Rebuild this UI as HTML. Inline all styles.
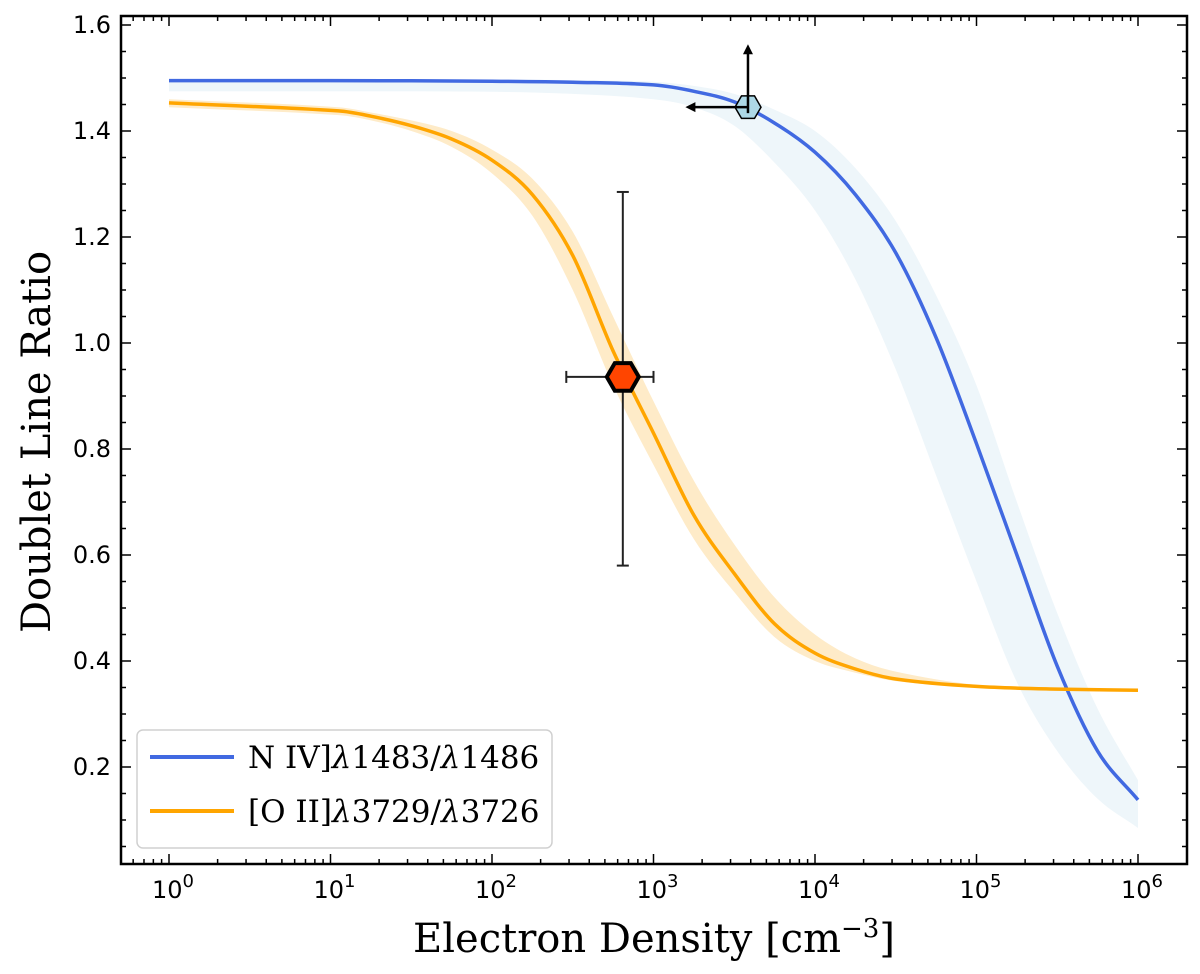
<!DOCTYPE html>
<html><head><meta charset="utf-8"><style>
body{margin:0;background:#fff;}
svg{display:block;}
.tick{font-family:"DejaVu Sans","Liberation Sans",sans-serif;font-size:24px;fill:#000;}
.lab{font-family:"DejaVu Serif","Liberation Serif",serif;font-size:40px;fill:#000;}
.leg{font-family:"DejaVu Serif","Liberation Serif",serif;font-size:31px;fill:#000;}
</style></head><body>
<svg id="chart" width="1200" height="974" viewBox="0 0 1200 974" xmlns="http://www.w3.org/2000/svg"></svg>
<script>
const nivLogN = [0,1,2,2.5,3,3.25,3.5,3.75,4,4.25,4.5,4.75,5,5.25,5.5,5.75,6];
const nivRatio = [1.495,1.495,1.494,1.492,1.487,1.475,1.455,1.415,1.36,1.28,1.17,1.01,0.81,0.60,0.39,0.23,0.138];
const nivLo = [1.475,1.475,1.474,1.47,1.46,1.445,1.41,1.34,1.25,1.12,0.95,0.75,0.55,0.36,0.23,0.14,0.085];
const nivHi = [1.497,1.497,1.497,1.496,1.493,1.485,1.47,1.44,1.40,1.33,1.23,1.09,0.92,0.70,0.49,0.31,0.175];
const oiiLogN = [0,1.05,1.25,1.5,1.75,2,2.25,2.5,2.75,3,3.25,3.5,3.75,4,4.25,4.5,5,5.5,6];
const oiiRatio = [1.453,1.438,1.428,1.41,1.385,1.345,1.28,1.165,0.985,0.83,0.675,0.565,0.47,0.415,0.385,0.366,0.352,0.347,0.345];
const oiiLo = [1.445,1.43,1.42,1.40,1.37,1.32,1.24,1.10,0.92,0.77,0.63,0.53,0.445,0.40,0.378,0.362,0.35,0.346,0.345];
const oiiHi = [1.46,1.445,1.435,1.42,1.40,1.365,1.31,1.21,1.05,0.89,0.74,0.62,0.52,0.45,0.405,0.38,0.355,0.347,0.345];
const obsLogN = 2.81, obsRatio = 0.936, obsXLo = 2.46, obsXHi = 3.0, obsYLo = 0.58, obsYHi = 1.285;
const limLogN = 3.585, limRatio = 1.445, limArrowY = 1.56, limArrowX = 3.21;
const xTickExp = [0,1,2,3,4,5,6];
const yTicks = [0.2,0.4,0.6,0.8,1.0,1.2,1.4,1.6];

const L=121,R=1187,T=16,B=864;
const sx = v => 169 + 161.5*v;
const sy = v => 25 + (1.6 - v)*530;
const svg = document.getElementById('chart');
const NS = 'http://www.w3.org/2000/svg';
function mk(tag, attrs, parent){ const e=document.createElementNS(NS,tag); for(const k in attrs) e.setAttribute(k,attrs[k]); (parent||svg).appendChild(e); return e; }
function pts(xs, ys){ return xs.map((x,i)=>[sx(x),sy(ys[i])]); }
function smoothSeg(p, start){
  let d=(start?'M':'L')+p[0][0].toFixed(1)+','+p[0][1].toFixed(1);
  for(let i=0;i<p.length-1;i++){
    const p0=p[i-1]||p[i],p1=p[i],p2=p[i+1],p3=p[i+2]||p2;
    const t1=(p2[0]-p1[0])/(p2[0]-p0[0]||1), t2=(p2[0]-p1[0])/(p3[0]-p1[0]||1);
    const c1=[p1[0]+(p2[0]-p0[0])*t1/3, p1[1]+(p2[1]-p0[1])*t1/3];
    const c2=[p2[0]-(p3[0]-p1[0])*t2/3, p2[1]-(p3[1]-p1[1])*t2/3];
    d+='C'+c1[0].toFixed(1)+','+c1[1].toFixed(1)+' '+c2[0].toFixed(1)+','+c2[1].toFixed(1)+' '+p2[0].toFixed(1)+','+p2[1].toFixed(1);
  }
  return d;
}
function band(xs, lo, hi){
  const up = pts(xs,hi), dn = pts(xs,lo).reverse();
  return smoothSeg(up,true)+smoothSeg(dn,false)+'Z';
}

let e;
e = mk('path',{d:band(nivLogN,nivLo,nivHi),fill:'#eef6fa'});


e = mk('path',{d:band(oiiLogN,oiiLo,oiiHi),fill:'#feebc8'});


e = mk('path',{d:smoothSeg(pts(nivLogN,nivRatio),true),fill:'none',stroke:'#4169e1','stroke-width':3.5});


e = mk('path',{d:smoothSeg(pts(oiiLogN,oiiRatio),true),fill:'none',stroke:'#ffa500','stroke-width':3.5});



const g1 = mk('g',{stroke:'#222','stroke-width':2});


mk('line',{x1:sx(obsXLo),x2:sx(obsXHi),y1:sy(obsRatio),y2:sy(obsRatio)},g1);
mk('line',{x1:sx(obsLogN),x2:sx(obsLogN),y1:sy(obsYLo),y2:sy(obsYHi)},g1);
mk('line',{x1:sx(obsXLo),x2:sx(obsXLo),y1:sy(obsRatio)-6,y2:sy(obsRatio)+6},g1);
mk('line',{x1:sx(obsXHi),x2:sx(obsXHi),y1:sy(obsRatio)-6,y2:sy(obsRatio)+6},g1);
mk('line',{x1:sx(obsLogN)-6,x2:sx(obsLogN)+6,y1:sy(obsYLo),y2:sy(obsYLo)},g1);
mk('line',{x1:sx(obsLogN)-6,x2:sx(obsLogN)+6,y1:sy(obsYHi),y2:sy(obsYHi)},g1);
function hex(cx,cy,r){ let p=[]; for(let i=0;i<6;i++){const a=Math.PI/3*i; p.push((cx+r*Math.cos(a)).toFixed(1)+','+(cy+r*Math.sin(a)).toFixed(1));} return p.join(' '); }
e = mk('polygon',{points:hex(sx(obsLogN),sy(obsRatio),16),fill:'#ff4500',stroke:'#000','stroke-width':4});



const g2 = mk('g',{stroke:'#000','stroke-width':2.5,fill:'none'});


const lx=sx(limLogN), ly=sy(limRatio);
mk('line',{x1:lx,x2:lx,y1:ly,y2:sy(limArrowY)+6},g2);
mk('line',{x1:lx,x2:sx(limArrowX)+6,y1:ly,y2:ly},g2);
mk('polygon',{points:`${lx},${sy(limArrowY)-2} ${lx-5},${sy(limArrowY)+8} ${lx+5},${sy(limArrowY)+8}`,fill:'#000',stroke:'none'},g2);
mk('polygon',{points:`${sx(limArrowX)-2},${ly} ${sx(limArrowX)+8},${ly-5} ${sx(limArrowX)+8},${ly+5}`,fill:'#000',stroke:'none'},g2);
e = mk('polygon',{points:hex(lx,ly,13),fill:'#add8e6',stroke:'#000','stroke-width':1.5});


mk('line',{x1:lx,x2:lx,y1:ly-12,y2:ly+6,stroke:'#000','stroke-width':2.5});
mk('line',{x1:lx-12,x2:lx,y1:ly,y2:ly,stroke:'#000','stroke-width':2.5});

e = mk('rect',{x:L,y:T,width:R-L,height:B-T,fill:'none',stroke:'#000','stroke-width':2.5});


const tg = mk('g',{stroke:'#000','stroke-width':1.5});


for(let d=-1; d<=6; d++){
  for(let m=1;m<10;m++){
    const v=d+Math.log10(m), x=sx(v);
    if(x<L+1||x>R-1) continue;
    const len = m===1?10:5;
    mk('line',{x1:x,x2:x,y1:B,y2:B-len},tg);
    mk('line',{x1:x,x2:x,y1:T,y2:T+len},tg);
  }
}
for(let v=0.05; v<1.62; v+=0.05){
  const y=sy(v); if(y<T||y>B) continue;
  const major = Math.abs((v*5)-Math.round(v*5))<0.01;
  const len = major?10:5;
  mk('line',{x1:L,x2:L+len,y1:y,y2:y},tg);
  mk('line',{x1:R,x2:R-len,y1:y,y2:y},tg);
}
xTickExp.forEach(p=>{
  const t = mk('text',{x:sx(p)+4,y:898,'text-anchor':'middle',class:'tick'});
  
  
  t.innerHTML = '10<tspan dy="-11" font-size="18">'+p+'</tspan>';
});
yTicks.forEach(v=>{
  const t = mk('text',{x:111,y:sy(v)+8,'text-anchor':'end',class:'tick'});
  
  
  t.textContent = v.toFixed(1);
});
e = mk('text',{x:654,y:952,'text-anchor':'middle',class:'lab'});


e.innerHTML = 'Electron Density [cm<tspan dy="-15" font-size="26">−3</tspan><tspan dy="15">]</tspan>';
e = mk('text',{x:0,y:0,'text-anchor':'middle',class:'lab',transform:'translate(50,442) rotate(-90)'});


e.textContent = 'Doublet Line Ratio';

const lg = mk('g',{});


mk('rect',{x:137,y:730,width:415,height:118,rx:6,fill:'#fff','fill-opacity':0.8,stroke:'#d0d0d0','stroke-width':1.5},lg);
e = mk('line',{x1:150,x2:234,y1:757,y2:757,stroke:'#4169e1','stroke-width':4},lg);


e = mk('text',{x:248,y:768,class:'leg'},lg);


e.innerHTML = 'N IV]<tspan font-style="italic">λ</tspan>1483/<tspan font-style="italic">λ</tspan>1486';
e = mk('line',{x1:150,x2:234,y1:811,y2:811,stroke:'#ffa500','stroke-width':4},lg);


e = mk('text',{x:248,y:822,class:'leg'},lg);


e.innerHTML = '[O II]<tspan font-style="italic">λ</tspan>3729/<tspan font-style="italic">λ</tspan>3726';
</script>
</body></html>
